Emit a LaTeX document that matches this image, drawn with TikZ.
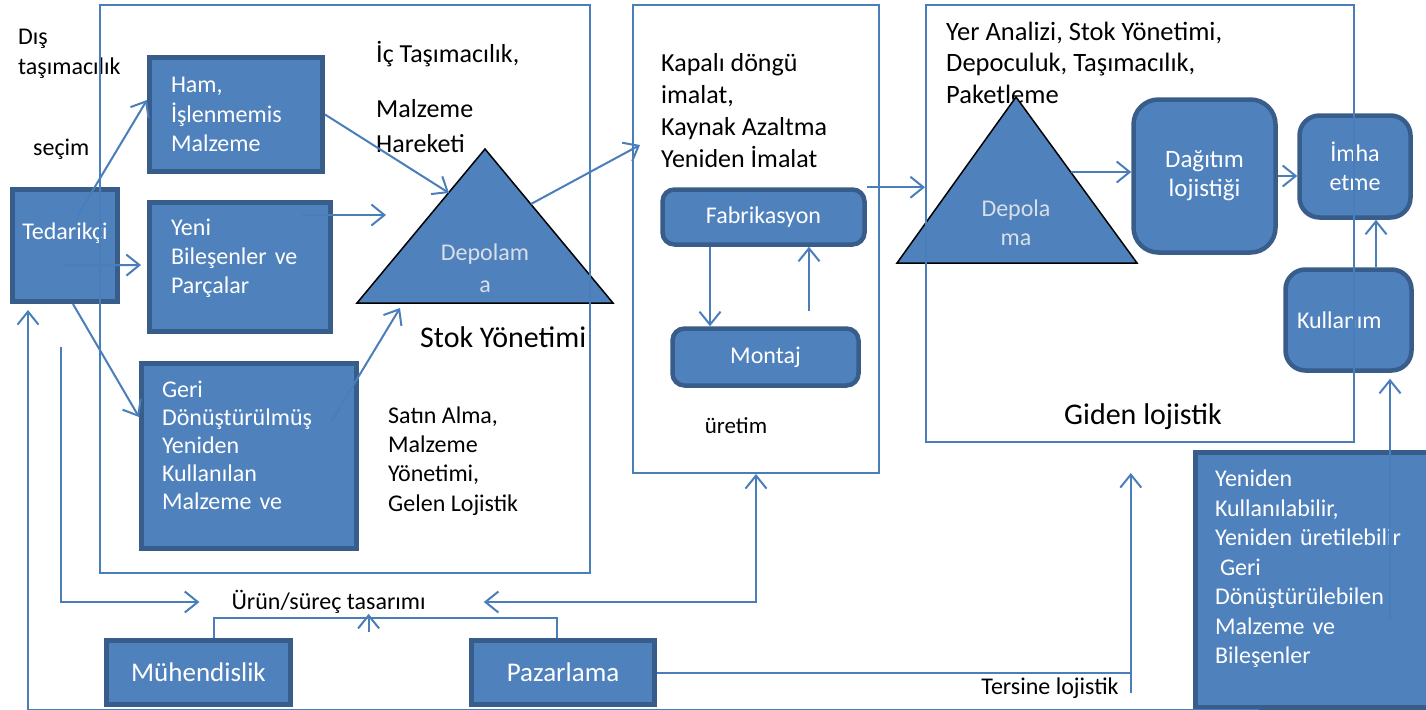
\documentclass[tikz,border=0pt]{standalone}
\usepackage{fontspec}
\setmainfont{Carlito}
\usetikzlibrary{arrows.meta}
\definecolor{boxfill}{HTML}{4F81BD}
\definecolor{boxline}{HTML}{385D8A}
\definecolor{conn}{HTML}{4A7EBB}
\definecolor{tritext}{HTML}{D9DFE8}
\begin{document}
\begin{tikzpicture}[x=1pt, y=-1pt,
  box/.style={rectangle, draw=boxline, line width=5pt, fill=boxfill, text=white, inner sep=0pt, font=\fontsize{24}{29}\selectfont},
  rbox/.style={box, line width=4.5pt, rounded corners=#1},
  frm/.style={rectangle, draw=conn, line width=2pt, inner sep=0pt},
  tri/.style={draw=black, line width=1.5pt, fill=boxfill},
  tritxt/.style={text=tritext, align=center, inner sep=0pt, font=\fontsize{24}{30}\selectfont},
  txt/.style={inner sep=0pt, align=left, font=\fontsize{24}{29}\selectfont},
  lin/.style={draw=conn, line width=2pt},
  arr/.style={lin, -{Straight Barb[length=13pt,width=21pt]}},
  arrs/.style={lin, {Straight Barb[length=13pt,width=21pt]}-{Straight Barb[length=13pt,width=21pt]}}]
\useasboundingbox (0,0) rectangle (1426,709);

\node[txt, anchor=west, font=\fontsize{24}{30}\selectfont] (dis) at (18,54) {Dış\\taşımacılık};
\node[txt, anchor=west] (secim) at (33,149) {seçim};
\node[txt, anchor=west, font=\fontsize{26}{35}\selectfont] (ic) at (376,97) {İç Taşımacılık,\\[20pt]Malzeme\\Hareketi};
\node[txt, anchor=west, font=\fontsize{30}{36}\selectfont] (stok) at (420,337) {Stok Yönetimi};
\node[txt, anchor=west, font=\fontsize{24}{29.3}\selectfont] (satin) at (388,461) {Satın Alma,\\Malzeme\\Yönetimi,\\Gelen Lojistik};
\node[txt, anchor=west, font=\fontsize{26}{32}\selectfont] (kap) at (661,110.5) {Kapalı döngü\\imalat,\\Kaynak Azaltma\\Yeniden İmalat};
\node[txt, font=\fontsize{23}{28}\selectfont] (uretim) at (736,426) {üretim};
\node[txt, anchor=west, font=\fontsize{26.5}{31.5}\selectfont] (yer) at (946,62.5) {Yer Analizi, Stok Yönetimi,\\Depoculuk, Taşımacılık,\\Paketleme};
\node[txt, font=\fontsize{30}{36}\selectfont] (giden) at (1143,417) {Giden lojistik};
\node[txt] (urun) at (328.6,602) {Ürün/süreç tasarımı};
\node[txt] (ters) at (1050,688) {Tersine lojistik};

\draw[tri] (485,149) -- (613,303) -- (357,303) -- cycle;
\node[tritxt, font=\fontsize{24}{32}\selectfont] (dep1) at (485,268) {Depolam\\a};
\draw[tri] (1016,97) -- (1137,263) -- (897,263) -- cycle;
\node[tritxt, font=\fontsize{24}{29}\selectfont] (dep2) at (1016,222.5) {Depola\\ma};
\coordinate (d1a) at (449,193);
\coordinate (d1b) at (386,215);
\coordinate (d1c) at (400,308);
\coordinate (d1d) at (531,204);
\coordinate (d2a) at (1071,172);
\coordinate (lp) at (61,347);

\node[box, minimum width=105, minimum height=112, text depth=28pt] (ted) at (65,245.5) {Tedarikçi};
\node[box, minimum width=173, minimum height=114, text width=130, align=left, font=\fontsize{24}{29.5}\selectfont] (ham) at (236,114.5) {Ham,\\İşlenmemis\\Malzeme};
\node[box, minimum width=181, minimum height=129, text width=138, align=left, text depth=79pt] (yeni) at (240,267) {Yeni\\Bileşenler ve\\Parçalar};
\node[box, minimum width=215, minimum height=185, text width=174, align=left, text depth=134pt, font=\fontsize{24}{28}\selectfont] (geri) at (249,456) {Geri\\Dönüştürülmüş\\Yeniden\\Kullanılan\\Malzeme ve};
\node[box, minimum width=184, minimum height=64, font=\fontsize{27}{32}\selectfont] (muh) at (198.5,672.5) {Mühendislik};
\node[box, minimum width=183, minimum height=64, font=\fontsize{27}{32}\selectfont] (paz) at (563,672.5) {Pazarlama};
\node[box, minimum width=242, minimum height=254.5, text width=203, align=left, text depth=203pt, font=\fontsize{24}{29.5}\selectfont] (yen) at (1316.5,579.75) {Yeniden\\Kullanılabilir,\\Yeniden üretilebilir\\\hspace*{5pt}Geri\\Dönüştürülebilen\\Malzeme ve\\Bileşenler};
\node[rbox=12pt, minimum width=202, minimum height=55] (fab) at (763.5,217) {Fabrikasyon};
\node[rbox=12pt, minimum width=186, minimum height=57] (mon) at (765.5,357) {Montaj};
\node[rbox=25pt, minimum width=142, minimum height=153, align=center, font=\fontsize{25}{29}\selectfont] (dag) at (1204.5,176) {Dağıtım\\lojistiği};
\node[rbox=20pt, minimum width=111, minimum height=102, align=center] (imha) at (1355,166.5) {İmha\\etme};
\node[rbox=20pt, minimum width=126, minimum height=101, text width=103, align=left] (kul) at (1348.5,320) {Kullanım};

\node[frm, minimum width=490, minimum height=568] (inb) at (345,289) {};
\node[frm, minimum width=246, minimum height=468] (prod) at (756,239) {};
\node[frm, minimum width=428, minimum height=437] (out) at (1140,223.5) {};

\draw[arr] ([xshift=13pt,yshift=30.5pt]ted.center) -- ([yshift=14.5pt]ham.west);
\draw[arr] ([yshift=-20pt]ted.center) -- ([xshift=-6pt,yshift=2pt]yeni.west);
\draw[arr] ([xshift=8pt]ted.south) -- ([yshift=39pt]geri.west);
\draw[arr] (ham.east) -- (d1a);
\draw[arr] ([xshift=62pt,yshift=52pt]yeni.center) -- (d1b);
\draw[arr] ([xshift=82pt,yshift=34pt]geri.center) -- (d1c);
\draw[arr] (d1d) -- ([xshift=8pt,yshift=94pt]prod.west);
\foreach \s/\t in {fab.north east/out.west, d2a/dag.west, dag.east/imha.west}
  \draw[arr] (\s) -- (\s -| \t);
\draw[arr] ([xshift=-53.5pt]fab.south) -- ([xshift=-55.5pt]mon.north);
\draw[arr] ([xshift=43.5pt,yshift=15pt]mon.north) -- ([xshift=45.5pt]fab.south);
\draw[arr] ([xshift=27.5pt]kul.north) -- ([xshift=27.5pt]kul.north |- imha.south);
\draw[arr] ([xshift=73.5pt,yshift=-40pt]yen.center) -- ([xshift=41.5pt,yshift=-6pt]kul.south);
\draw[arr] ([xshift=-57.5pt]yen.south) -| ([xshift=-37pt,yshift=-6pt]ted.south);
\draw[arr] (lp) |- ([xshift=-32pt]urun.west);
\draw[arrs] (prod.south) |- ([xshift=58pt]urun.east);
\draw[lin] ([xshift=15.5pt]muh.north) -- ++(0,-20) -| ([xshift=-6pt]paz.north);
\draw[arr] ([xshift=40pt,yshift=-18pt]urun.south) -- ([xshift=40pt]urun.south);
\draw[lin] (paz.east) -- ++(473,0);
\draw[arr] ([xshift=12pt,yshift=-5pt]ters.east) -- ++(0,-220);
\end{tikzpicture}
\end{document}
